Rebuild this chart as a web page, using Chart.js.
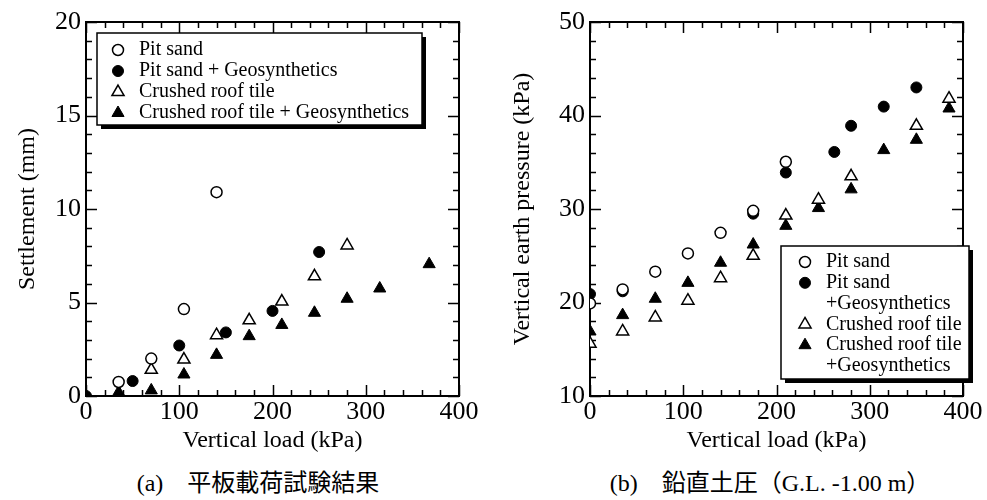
<!DOCTYPE html>
<html>
<head>
<meta charset="utf-8">
<script src="https://cdn.jsdelivr.net/npm/chart.js@4.4.1/dist/chart.umd.min.js"></script>
<style>
  body { margin: 0; background: #fff; }
  #page { position: relative; width: 987px; height: 500px; overflow: hidden; background: #fff; }
  .panel { position: absolute; top: 0; height: 460px; }
  .caption {
    position: absolute; top: 469px; width: 500px; text-align: center;
    font: 24px/28px "Liberation Serif", "Noto Sans CJK JP", serif; color: #000;
    white-space: pre;
  }
</style>
</head>
<body>
<div id="page">
  <div class="panel" style="left:0;width:480px"><canvas id="chart-a"></canvas></div>
  <div class="panel" style="left:493px;width:494px"><canvas id="chart-b"></canvas></div>
  <div class="caption" style="left:8px">(a)　平板載荷試験結果</div>
  <div class="caption" style="left:520px">(b)　鉛直土圧（G.L. -1.00 m）</div>
</div>
<script>
"use strict";

// (a) plate loading test: vertical load (kPa) vs settlement (mm)
const loadPitSandA = [35, 70, 105, 140];
const settlePitSand = [0.75, 2.0, 4.65, 10.9];
const loadPitSandGeoA = [0, 50, 100, 150, 200, 250];
const settlePitSandGeo = [0, 0.8, 2.7, 3.4, 4.55, 7.7];
const loadTileA = [70, 105, 140, 175, 210, 245, 280];
const settleTile = [1.4, 1.95, 3.25, 4.05, 5.05, 6.4, 8.05];
const loadTileGeoA = [0, 35, 70, 105, 140, 175, 210, 245, 280, 315, 368];
const settleTileGeo = [0, 0.2, 0.3, 1.15, 2.2, 3.2, 3.8, 4.45, 5.2, 5.75, 7.05];

// (b) vertical earth pressure at G.L. -1.00 m (kPa)
const loadPitSandB = [0, 35, 70, 105, 140, 175, 210];
const pressPitSand = [19.9, 21.4, 23.3, 25.25, 27.45, 29.8, 35.05];
const loadPitSandGeoB = [0, 35, 175, 210, 262, 280, 315, 350];
const pressPitSandGeo = [20.9, 21.2, 29.5, 33.9, 36.1, 38.9, 40.95, 43.0];
const loadTileB = [0, 35, 70, 105, 140, 175, 210, 245, 280, 350, 385];
const pressTile = [15.6, 16.9, 18.4, 20.2, 22.6, 25.0, 29.3, 31.0, 33.5, 38.9, 41.8];
const loadTileGeoB = [0, 35, 70, 105, 140, 175, 210, 245, 280, 315, 350, 385];
const pressTileGeo = [16.9, 18.65, 20.4, 22.1, 24.25, 26.2, 28.2, 30.1, 32.1, 36.3, 37.4, 40.75];

const seriesNames = [
  "Pit sand",
  "Pit sand + Geosynthetics",
  "Crushed roof tile",
  "Crushed roof tile + Geosynthetics",
];
const legendLinesB = [
  ["Pit sand"],
  ["Pit sand", "+Geosynthetics"],
  ["Crushed roof tile"],
  ["Crushed roof tile", "+Geosynthetics"],
];

const SERIF = "Liberation Serif, DejaVu Serif, serif";

const markerStyles = [
  { pointStyle: "circle", pointRadius: 5.5, pointBackgroundColor: "#fff", pointBorderColor: "#000", pointBorderWidth: 1.5 },
  { pointStyle: "circle", pointRadius: 5.5, pointBackgroundColor: "#000", pointBorderColor: "#000", pointBorderWidth: 1 },
  { pointStyle: "triangle", pointRadius: 7, pointBackgroundColor: "#fff", pointBorderColor: "#000", pointBorderWidth: 1.5 },
  { pointStyle: "triangle", pointRadius: 7, pointBackgroundColor: "#000", pointBorderColor: "#000", pointBorderWidth: 1 },
];

function toPoints(xs, ys) {
  return xs.map((x, i) => ({ x: x, y: ys[i] }));
}

function makeDatasets(pairs) {
  return pairs.map((p, i) =>
    Object.assign({ label: seriesNames[i], data: toPoints(p[0], p[1]) }, markerStyles[i])
  );
}

// box frame with inward major/minor ticks on all four sides
const frameTicks = {
  id: "frameTicks",
  beforeDatasetsDraw(chart, args, opts) {
    const { ctx, chartArea: a, scales } = chart;
    const xs = scales.x;
    const ys = scales.y;
    ctx.save();
    ctx.strokeStyle = "#000";
    ctx.lineWidth = 1.5;
    ctx.beginPath();
    for (let v = xs.min; v <= xs.max + 1e-6; v += opts.xMinor) {
      const px = Math.round(xs.getPixelForValue(v)) + 0.5;
      const len = Math.abs(v / opts.xMajor - Math.round(v / opts.xMajor)) < 1e-6 ? 11 : 6;
      ctx.moveTo(px, a.bottom);
      ctx.lineTo(px, a.bottom - len);
      ctx.moveTo(px, a.top);
      ctx.lineTo(px, a.top + len);
    }
    for (let v = ys.min; v <= ys.max + 1e-6; v += opts.yMinor) {
      const py = Math.round(ys.getPixelForValue(v)) + 0.5;
      const len = Math.abs(v / opts.yMajor - Math.round(v / opts.yMajor)) < 1e-6 ? 11 : 6;
      ctx.moveTo(a.left, py);
      ctx.lineTo(a.left + len, py);
      ctx.moveTo(a.right, py);
      ctx.lineTo(a.right - len, py);
    }
    ctx.stroke();
    ctx.lineWidth = 2;
    ctx.strokeRect(a.left, a.top, a.right - a.left, a.bottom - a.top);
    ctx.restore();
  },
};

// legend box with drop shadow, drawn inside the plot
const boxLegend = {
  id: "boxLegend",
  afterDatasetsDraw(chart, args, opts) {
    const ctx = chart.ctx;
    ctx.save();
    ctx.fillStyle = "#000";
    ctx.fillRect(opts.left + 4, opts.top + 4, opts.width, opts.height);
    ctx.fillStyle = "#fff";
    ctx.fillRect(opts.left, opts.top, opts.width, opts.height);
    ctx.strokeStyle = "#000";
    ctx.lineWidth = 1.5;
    ctx.strokeRect(opts.left, opts.top, opts.width, opts.height);

    ctx.font = "20px " + SERIF;
    ctx.textBaseline = "middle";
    ctx.textAlign = "left";
    let row = 0;
    chart.data.datasets.forEach((ds, i) => {
      const y = opts.top + opts.firstRow + row * opts.rowStep;
      ctx.fillStyle = ds.pointBackgroundColor;
      ctx.strokeStyle = ds.pointBorderColor;
      ctx.lineWidth = ds.pointBorderWidth;
      Chart.helpers.drawPoint(ctx, {
        pointStyle: ds.pointStyle,
        radius: ds.pointRadius,
        borderWidth: ds.pointBorderWidth,
        rotation: 0,
      }, opts.left + opts.markerX, y);
      ctx.fillStyle = "#000";
      opts.lines[i].forEach((line, k) => {
        ctx.fillText(line, opts.left + opts.textX, y + k * opts.rowStep);
      });
      row += opts.lines[i].length;
    });
    ctx.restore();
  },
};

function makeChart(id, cfg) {
  const tickFont = { family: SERIF, size: 26 };
  const titleFont = { family: SERIF, size: 24 };
  return new Chart(document.getElementById(id), {
    type: "scatter",
    data: { datasets: cfg.datasets },
    plugins: [frameTicks, boxLegend],
    options: {
      responsive: true,
      maintainAspectRatio: false,
      animation: false,
      events: [],
      layout: { padding: { left: 0, top: 22, right: cfg.padRight, bottom: 0 } },
      scales: {
        x: {
          type: "linear",
          min: 0,
          max: 400,
          grid: { display: false, drawTicks: false },
          border: { display: false },
          ticks: { stepSize: 100, color: "#000", font: tickFont, padding: 1, maxRotation: 0 },
          title: {
            display: true,
            text: "Vertical load (kPa)",
            color: "#000",
            font: titleFont,
            padding: { top: 0, bottom: 5 },
          },
          afterFit(scale) { scale.height = 64; },
        },
        y: {
          type: "linear",
          min: cfg.yMin,
          max: cfg.yMax,
          grid: { display: false, drawTicks: false },
          border: { display: false },
          ticks: { stepSize: cfg.yStep, color: "#000", font: tickFont, padding: 5 },
          title: {
            display: true,
            text: cfg.yTitle,
            color: "#000",
            font: titleFont,
            padding: { top: cfg.yTitlePad, bottom: 0 },
          },
          afterFit(scale) { scale.width = cfg.yWidth; },
        },
      },
      plugins: {
        legend: { display: false },
        tooltip: { enabled: false },
        frameTicks: cfg.ticks,
        boxLegend: cfg.legend,
      },
    },
  });
}

function drawAll() {
  makeChart("chart-a", {
    datasets: makeDatasets([
      [loadPitSandA, settlePitSand],
      [loadPitSandGeoA, settlePitSandGeo],
      [loadTileA, settleTile],
      [loadTileGeoA, settleTileGeo],
    ]),
    yMin: 0,
    yMax: 20,
    yStep: 5,
    yTitle: "Settlement (mm)",
    yTitlePad: 13,
    yWidth: 86,
    padRight: 21,
    ticks: { xMinor: 20, xMajor: 100, yMinor: 1, yMajor: 5 },
    legend: {
      left: 97, top: 33, width: 325, height: 92,
      firstRow: 17, rowStep: 21, markerX: 21, textX: 42,
      lines: seriesNames.map((n) => [n]),
    },
  });

  makeChart("chart-b", {
    datasets: makeDatasets([
      [loadPitSandB, pressPitSand],
      [loadPitSandGeoB, pressPitSandGeo],
      [loadTileB, pressTile],
      [loadTileGeoB, pressTileGeo],
    ]),
    yMin: 10,
    yMax: 50,
    yStep: 10,
    yTitle: "Vertical earth pressure (kPa)",
    yTitlePad: 15,
    yWidth: 97,
    padRight: 24,
    ticks: { xMinor: 20, xMajor: 100, yMinor: 2, yMajor: 10 },
    legend: {
      left: 288, top: 246, width: 188, height: 133,
      firstRow: 16, rowStep: 20.8, markerX: 24, textX: 45,
      lines: legendLinesB,
    },
  });
}

// make sure the serif face is ready before the canvas text is drawn
if (document.fonts && document.fonts.load) {
  Promise.all([
    document.fonts.load("24px 'Liberation Serif'"),
    document.fonts.ready,
  ]).then(drawAll, drawAll);
} else {
  drawAll();
}
</script>
</body>
</html>
